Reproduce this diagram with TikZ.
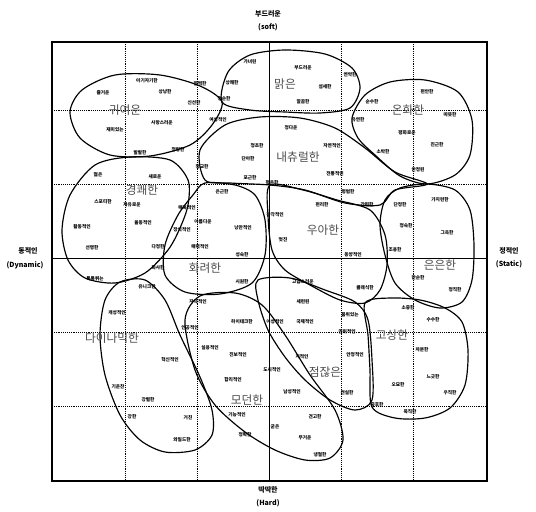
\documentclass[tikz,border=0pt]{standalone}
\usepackage{fontspec}
\setmainfont{Noto Sans CJK KR}
\usetikzlibrary{positioning}

\begin{document}
\begin{tikzpicture}[x=0.03cm, y=-0.03cm]
    % Styles
    \tikzstyle{word} = [font=\bfseries\fontsize{4}{4.5}\selectfont, inner sep=0pt]
    \tikzstyle{group} = [font=\fontsize{10}{12}\selectfont, text=black!70, inner sep=0pt]
    \tikzstyle{axislabel} = [font=\bfseries\fontsize{6}{7}\selectfont, inner sep=0pt]
    \tikzstyle{region} = [draw, line width=1pt]
    \tikzstyle{gridline} = [densely dotted, line width=0.6pt]

    \useasboundingbox (0,0) rectangle (536,512);

    % --- FRAME AND GRID ---
    \foreach \gx in {125,197,341,413}
        \draw[gridline] (\gx,42) -- (\gx,481);
    \foreach \gy in {110,184,332,406}
        \draw[gridline] (52,\gy) -- (487,\gy);
    \draw[line width=0.7pt] (269,42) -- (269,481);
    \draw[line width=0.7pt] (52,258) -- (487,258);
    \draw[line width=1.6pt] (52,42) rectangle (487,481);

    % --- AXIS LABELS ---
    \node[axislabel] (soft) at (268,14) {부드러운};
    \node[axislabel] (soften) at (268,27) {(soft)};
    \node[axislabel] (hard) at (268,490) {딱딱한};
    \node[axislabel] (harden) at (268,503) {(Hard)};
    \node[axislabel] (dyn) at (28,251) {동적인};
    \node[axislabel] (dynen) at (25,265) {(Dynamic)};
    \node[axislabel] (stat) at (509,251) {정적인};
    \node[axislabel] (staten) at (509,264) {(Static)};

    % --- IMAGE GROUPS ---
    % cute
    \draw[region] plot[smooth cycle] coordinates {(222,102) (200,86) (160,75) (115,75) (82,90) (70,112) (80,138) (110,155) (150,156) (190,145) (212,125)};
    % clear
    \draw[region] plot[smooth cycle] coordinates {(222,102) (228,72) (250,55) (285,50) (325,54) (352,68) (360,88) (350,108) (320,113) (285,112) (250,110)};
    % mild
    \draw[region] plot[smooth cycle] coordinates {(352,118) (365,95) (390,82) (425,80) (458,92) (472,120) (470,155) (455,175) (427,184) (400,176) (375,155) (358,138)};
    % natural
    \draw[region] plot[smooth cycle] coordinates {(200,150) (225,125) (260,117) (300,118) (335,128) (365,148) (395,172) (427,184) (395,190) (380,205) (345,203) (305,190) (270,185) (230,183) (205,180)};
    % lively
    \draw[region] plot[smooth cycle] coordinates {(130,157) (170,160) (188,180) (188,205) (180,228) (168,250) (145,273) (115,283) (85,278) (68,260) (62,230) (70,195) (95,165)};
    % gorgeous
    \draw[region] plot[smooth cycle] coordinates {(205,183) (235,185) (255,195) (265,220) (265,255) (252,283) (220,294) (185,292) (165,275) (165,245) (178,215) (193,195)};
    % elegant
    \draw[region] plot[smooth cycle] coordinates {(270,185) (303,190) (337,200) (370,210) (385,235) (387,265) (380,290) (365,303) (340,300) (310,285) (285,270) (272,250) (268,215)};
    % subtle
    \draw[region] plot[smooth cycle] coordinates {(427,184) (455,190) (470,210) (474,245) (472,280) (462,302) (440,308) (415,300) (395,283) (385,255) (380,225) (385,200) (400,188)};
    % dynamic
    \draw[region] plot[smooth cycle] coordinates {(120,282) (145,280) (165,300) (180,335) (200,377) (212,410) (212,435) (195,450) (165,452) (140,440) (120,415) (105,375) (100,335) (105,300)};
    % modern
    \draw[region] plot[smooth cycle] coordinates {(185,320) (200,296) (235,293) (262,305) (285,335) (310,375) (335,410) (343,440) (330,458) (305,460) (275,450) (245,432) (215,405) (195,370)};
    % sober
    \draw[region] plot[smooth cycle] coordinates {(258,280) (290,278) (325,290) (355,302) (368,320) (372,360) (372,400) (355,410) (330,400) (305,380) (285,357) (268,330) (258,300)};
    % noble
    \draw[region] plot[smooth cycle] coordinates {(365,303) (390,298) (420,300) (445,308) (462,322) (468,350) (465,385) (450,408) (425,418) (395,418) (372,407) (370,370) (368,335)};

    % --- GROUP NAMES ---
    \node[group] (cute) at (125,110) {귀여운};
    \node[group] (clear) at (285,84) {맑은};
    \node[group] (mild) at (408,110) {온화한};
    \node[group] (natural) at (298,157) {내츄럴한};
    \node[group] (lively) at (142,190) {경쾌한};
    \node[group] (gorgeous) at (205,268) {화려한};
    \node[group] (elegant) at (323,230) {우아한};
    \node[group] (subtle) at (440,265) {은은한};
    \node[group] (dynamic) at (112,338) {다이나믹한};
    \node[group] (modern) at (247,400) {모던한};
    \node[group] (sober) at (325,372) {점잖은};
    \node[group] (noble) at (392,335) {고상한};

    % --- ADJECTIVES ---
    \foreach \x/\y/\t [count=\i] in {
        147/81/아기자기한, 103/93/즐거운, 165/92/상냥한, 200/84/깜찍한,
        194/103/신선한, 162/123/사랑스러운, 115/130/재미있는, 218/120/여성적인,
        250/62/가녀린, 232/83/상쾌한, 303/68/부드러운, 350/75/연약한,
        325/87/섬세한, 303/102/깔끔한, 224/99/청순한,
        427/92/편안한, 372/102/순수한, 358/120/유연한, 450/115/따뜻한,
        407/133/평화로운, 291/128/정다운, 332/146/자연적인, 437/145/친근한,
        383/152/소박한, 257/146/청초한, 248/159/단아한, 250/178/포근한,
        335/174/전통적인, 272/183/평온한, 418/170/안정된, 348/192/평범한,
        322/205/편리한, 367/205/간편한, 400/205/단정한, 440/200/가지런한,
        275/215/감각적인, 406/226/정숙한, 447/233/그윽한, 283/240/멋진,
        140/153/발랄한, 178/150/청량한, 98/175/젊은, 155/177/새로운,
        103/202/스포티한, 132/205/자유로운, 82/227/활동적인, 143/223/율동적인,
        92/248/선명한, 158/247/다정한, 95/279/톡톡튀는,
        202/167/정교한, 187/208/매혹적인, 222/192/은근한, 203/222/아름다운,
        182/230/장식적인, 243/228/낭만적인, 200/247/매력적인, 242/255/성숙한,
        158/268/화사한, 242/282/시원한, 147/287/유니크한,
        198/302/자극적인, 117/313/개성적인, 190/328/인공적인, 170/360/혁신적인,
        118/387/기운찬, 148/400/강렬한, 132/417/강한, 188/418/거친, 182/440/와일드한,
        242/322/하이테크한, 275/322/이성적인, 210/348/실용적인, 238/355/진보적인,
        272/370/도시적인, 233/380/합리적인, 237/415/기능적인, 245/435/정확한,
        275/427/굳은, 305/438/무거운, 320/455/냉철한, 315/417/견고한,
        303/282/고급스러운, 303/302/세련된, 305/322/국제적인, 302/357/지적인,
        355/355/안정적인, 347/332/권위적인, 350/315/품위있는, 365/288/클래식한,
        292/392/남성적인, 347/393/견실한,
        395/250/조용한, 353/255/동양적인, 418/278/단순한, 455/290/정직한,
        408/308/소중한, 433/320/수수한, 422/350/차분한, 433/377/느긋한,
        398/385/오묘한, 450/393/우직한, 377/405/중후한, 410/412/묵직한}
        \node[word] (w\i) at (\x,\y) {\t};

\end{tikzpicture}
\end{document}
